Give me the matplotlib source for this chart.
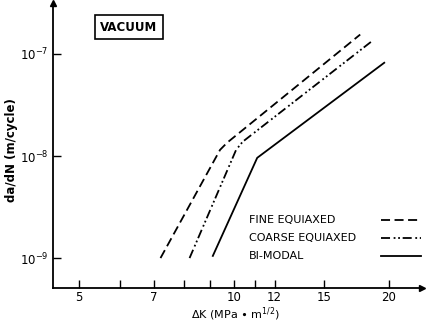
import matplotlib
matplotlib.use("Agg")
import matplotlib.pyplot as plt
from matplotlib.lines import Line2D

# curve data (delta K in MPa m^1/2, da/dN in m/cycle)
fine_dk = [7.2, 9.4, 9.7, 17.6]
fine_dadn = [1.0e-9, 1.15e-8, 1.35e-8, 1.55e-7]

coarse_dk = [8.2, 10.1, 10.4, 18.6]
coarse_dadn = [1.0e-9, 1.15e-8, 1.38e-8, 1.35e-7]

bimodal_dk = [9.1, 11.1, 19.6]
bimodal_dadn = [1.05e-9, 9.6e-9, 8.2e-8]

x_ticks = [5, 6, 7, 8, 9, 10, 11, 12, 15, 20]
x_labels = ["5", "", "7", "", "", "10", "", "12", "15", "20"]
y_ticks = [1e-9, 1e-8, 1e-7]
y_labels = [r"$10^{-9}$", r"$10^{-8}$", r"$10^{-7}$"]

legend_names = ["FINE EQUIAXED", "COARSE EQUIAXED", "BI-MODAL"]

plt.rcParams["font.family"] = ["DejaVu Sans"]
plt.rcParams["mathtext.fontset"] = "dejavusans"

fig = plt.figure(figsize=(4.26, 3.30), dpi=100)
ax = fig.add_axes([0.1244, 0.127, 0.866, 0.864])

dash = (5, 2.5)
dashdot = (5, 2, 1, 1.5, 1, 1.5)
lw = 1.3

ax.plot(fine_dk, fine_dadn, color="black", lw=lw, dashes=dash)
ax.plot(coarse_dk, coarse_dadn, color="black", lw=lw, dashes=dashdot)
ax.plot(bimodal_dk, bimodal_dadn, color="black", lw=lw)

ax.set_xscale("log")
ax.set_yscale("log")
ax.set_xlim(4.45, 23.2)
ax.set_ylim(5.08e-10, 3.16e-7)

ax.set_xticks(x_ticks)
ax.set_xticklabels(x_labels)
ax.set_xticks([], minor=True)
ax.set_yticks(y_ticks)
ax.set_yticklabels(y_labels)
ax.set_yticks([], minor=True)
ax.tick_params(direction="in", length=6, width=1, labelsize=8.5, pad=3)
ax.tick_params(axis="x", pad=2)

ax.spines["top"].set_visible(False)
ax.spines["right"].set_visible(False)
ax.spines["left"].set_linewidth(1.3)
ax.spines["bottom"].set_linewidth(1.3)

# arrow heads on the axes
ax.plot([1], [0], marker=">", color="black", ms=5, transform=ax.transAxes, clip_on=False)
ax.plot([0], [1], marker="^", color="black", ms=5, transform=ax.transAxes, clip_on=False)

fig.text(0.552, 0.022, r"$\Delta$K (MPa $\bullet$ m$^{1/2}$)", fontsize=8,
         ha="center", va="bottom")
fig.text(0.028, 0.545, "da/dN (m/cycle)", rotation=90, fontsize=8.5, fontweight="bold",
         ha="center", va="center")

fig.text(0.302, 0.918, "VACUUM", fontsize=8.5, fontweight="bold", ha="center", va="center",
         bbox=dict(boxstyle="square,pad=0.45", fc="white", ec="black", lw=1.2))

# hand made legend
styles = [dict(dashes=dash), dict(dashes=dashdot), dict()]
ys = [0.333, 0.279, 0.224]
for name, st, y in zip(legend_names, styles, ys):
    fig.text(0.585, y, name, fontsize=8, ha="left", va="center")
    fig.add_artist(Line2D([0.895, 0.988], [y, y], transform=fig.transFigure,
                          color="black", lw=lw, **st))

fig.savefig("out.png", dpi=100)
